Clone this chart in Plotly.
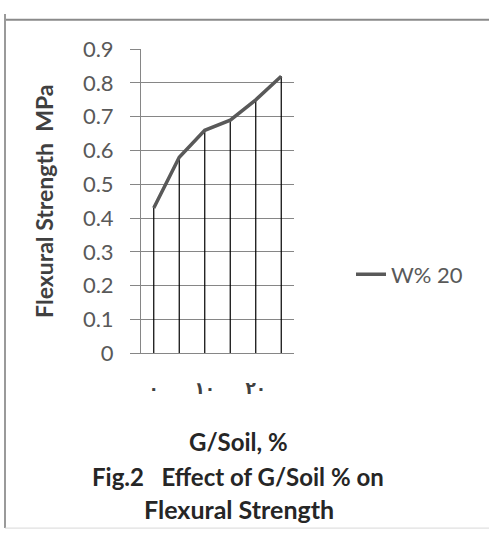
import plotly.graph_objects as go

W, H = 489, 543

# Data
g_soil = [0, 5, 10, 15, 20, 25]
flexural = [0.43, 0.58, 0.66, 0.69, 0.75, 0.82]
series_name = "W% 20"
x_tick_vals = [0, 10, 20]
x_tick_text = ["<b>٠</b>", "<b>١٠</b>", "<b>٢٠</b>"]
y_tick_vals = [0, 0.1, 0.2, 0.3, 0.4, 0.5, 0.6, 0.7, 0.8, 0.9]
y_tick_text = ["0", "0.1", "0.2", "0.3", "0.4", "0.5", "0.6", "0.7", "0.8", "0.9"]

def px_x(p):
    return p / W

def px_y(p):
    return 1 - p / H

fig = go.Figure()
fig.add_trace(go.Scatter(
    x=g_soil, y=flexural, mode="lines", name=series_name,
    line=dict(color="#595959", width=3.5),
    error_y=dict(type="data", symmetric=False, array=[0] * len(flexural),
                 arrayminus=flexural, color="#000000", thickness=1.2, width=0),
))

font_main = "Lato, 'Open Sans', sans-serif"

fig.update_layout(
    width=W, height=H, autosize=False,
    margin=dict(l=0, r=0, t=0, b=0),
    paper_bgcolor="white", plot_bgcolor="white",
    showlegend=True,
    legend=dict(x=px_x(351), y=px_y(274), xanchor="left", yanchor="middle",
                font=dict(family=font_main, size=22, color="#595959"),
                bgcolor="rgba(0,0,0,0)", itemwidth=30),
    xaxis=dict(
        domain=[px_x(141), px_x(294)],
        range=[-2.5, 27.5],
        tickvals=x_tick_vals, ticktext=x_tick_text,
        tickfont=dict(family="DejaVu Sans", size=17, color="#404040"),
        ticks="", ticklabelstandoff=19,
        showgrid=False, zeroline=False,
        showline=True, linecolor="#868686", linewidth=1,
    ),
    yaxis=dict(
        domain=[px_y(357), px_y(37)],
        range=[0, 0.9],
        tickvals=y_tick_vals, ticktext=y_tick_text,
        tickfont=dict(family=font_main, size=22, color="#595959"),
        ticks="outside", ticklen=10, tickcolor="#868686",
        ticklabelstandoff=12,
        showgrid=True, gridcolor="#868686", gridwidth=1,
        zeroline=False,
        showline=True, linecolor="#868686", linewidth=1,
        title=dict(text="<b>Flexural Strength  MPa</b>",
                   font=dict(family=font_main, size=23, color="#404040"),
                   standoff=22),
    ),
    annotations=[
        dict(text="<b>G/Soil, %</b>", x=px_x(238), y=px_y(450),
             xref="paper", yref="paper", showarrow=False,
             xanchor="center", yanchor="middle",
             font=dict(family=font_main, size=24, color="#262626")),
        dict(text="<b>Fig.2   Effect of G/Soil % on</b>", x=px_x(238), y=px_y(487),
             xref="paper", yref="paper", showarrow=False,
             xanchor="center", yanchor="middle",
             font=dict(family=font_main, size=24, color="#262626")),
        dict(text="<b>Flexural Strength</b>", x=px_x(239), y=px_y(521),
             xref="paper", yref="paper", showarrow=False,
             xanchor="center", yanchor="middle",
             font=dict(family=font_main, size=25, color="#262626")),
    ],
    shapes=[
        dict(type="line", xref="paper", yref="paper",
             x0=px_x(4), x1=1, y0=px_y(6), y1=px_y(6),
             line=dict(color="#8a8a8a", width=2)),
        dict(type="line", xref="paper", yref="paper",
             x0=px_x(5), x1=px_x(5), y0=1, y1=px_y(541),
             line=dict(color="#9a9a9a", width=2)),
        dict(type="line", xref="paper", yref="paper",
             x0=px_x(5), x1=1, y0=px_y(541), y1=px_y(541),
             line=dict(color="#d8d8d8", width=1)),
    ],
)

fig.write_html("out.html", config={"displayModeBar": False},
               post_script="document.body.style.margin='0';document.body.style.overflow='hidden';")
